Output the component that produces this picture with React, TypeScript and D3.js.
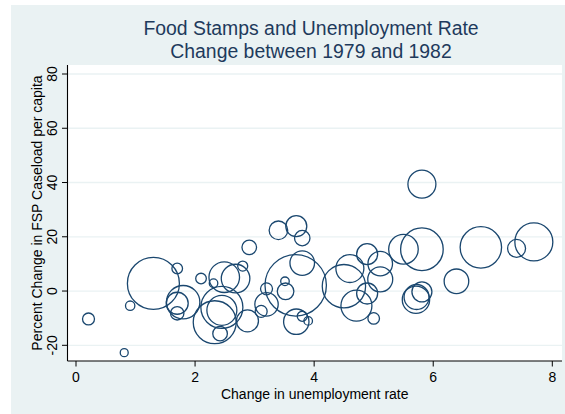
import React from "react";
import * as d3 from "d3";

// Change in unemployment rate (x), 1979-1982
const unempChange = [
  0.21, 0.81, 0.91, 1.3, 1.7, 1.8, 1.7, 1.7, 2.1, 2.31,
  2.33, 2.42, 2.45, 2.45, 2.49, 2.68, 2.8, 2.91, 2.88, 3.11,
  3.2, 3.2, 3.4, 3.7, 3.8, 3.69, 3.8, 3.51, 3.52, 3.7,
  3.8, 3.9, 4.5, 4.6, 4.71, 4.89, 4.89, 5.11, 5.11, 5.0,
  5.5, 5.81, 5.81, 5.81, 5.72, 5.71, 6.39, 6.8, 7.4, 7.69,
];
// Percent change in FSP caseload per capita (y)
const fspChange = [
  -10.3, -22.7, -5.4, 2.8, 8.3, -4.1, -4.5, -8.2, 4.6, 2.9,
  -11.5, -15.7, -6.0, -7.1, 5.1, 4.6, 9.2, 16.1, -11.0, -7.5,
  0.8, -4.9, 22.4, 23.9, 19.5, 2.1, 10.3, 3.6, -0.1, -11.3,
  -9.3, -11.0, 1.8, 8.3, -5.4, -0.9, 13.6, 10.1, 4.3, -10.1,
  15.4, 15.4, 39.4, -0.3, -2.2, -3.2, 3.6, 16.1, 15.7, 18.1,
];
// Bubble weight (population, millions)
const population = [
  0.9, 0.4, 0.55, 17.0, 0.71, 7.0, 3.04, 1.13, 0.71, 0.46,
  11.6, 1.34, 11.1, 5.65, 5.88, 5.14, 0.63, 1.34, 3.04, 0.9,
  0.9, 3.44, 2.17, 2.77, 1.49, 23.7, 3.8, 0.46, 1.73, 4.05,
  0.63, 0.46, 11.8, 4.92, 6.03, 2.77, 2.77, 3.8, 3.92, 0.84,
  5.5, 11.4, 4.92, 2.51, 3.92, 4.71, 3.8, 10.8, 2.03, 9.07,
];

const xTicks = [0, 2, 4, 6, 8];
const yTicks = [-20, 0, 20, 40, 60, 80];
const titleLines = ["Food Stamps and Unemployment Rate", "Change between 1979 and 1982"];
const xTitle = "Change in unemployment rate";
const yTitle = "Percent Change in FSP Caseload per capita";

export default function App() {
  const W = 565;
  const H = 414;
  const plot = { left: 67.5, right: 562, top: 65, bottom: 361 };
  const x = d3.scaleLinear().domain([0, 8]).range([76, 552.3]);
  const y = d3.scaleLinear().domain([-20, 80]).range([345.3, 74]);
  const r = d3.scaleSqrt().domain([0, 23.7]).range([0, 30.7]);
  const font = "'Liberation Sans', Arial, Helvetica, sans-serif";
  const bg = "#EAF2F3";
  const navy = "#1A476F";

  const pts = unempChange.map((u, i) => ({ u, f: fspChange[i], p: population[i] }));

  return (
    <div style={{ position: "absolute", left: 0, top: 0 }}>
      <svg width={W} height={H} style={{ display: "block" }} fontFamily={font}>
        <rect x={0} y={0} width={W} height={H} fill="#ffffff" />
        <rect x={11} y={5} width={W - 11} height={H - 5} fill={bg} />
        <rect
          x={plot.left}
          y={plot.top}
          width={plot.right - plot.left}
          height={plot.bottom - plot.top}
          fill="#ffffff"
        />
        {yTicks.map((t) => (
          <line
            key={"g" + t}
            x1={plot.left}
            x2={plot.right}
            y1={y(t)}
            y2={y(t)}
            stroke={bg}
            strokeWidth={1.3}
          />
        ))}
        {pts.map((d, i) => (
          <circle
            key={i}
            cx={x(d.u)}
            cy={y(d.f)}
            r={r(d.p)}
            fill="none"
            stroke={navy}
            strokeWidth={1.3}
          />
        ))}
        {/* axes */}
        <line x1={plot.left} x2={plot.left} y1={plot.top} y2={plot.bottom} stroke="#000" strokeWidth={1.1} />
        <line x1={plot.left} x2={plot.right} y1={plot.bottom} y2={plot.bottom} stroke="#000" strokeWidth={1.1} />
        {yTicks.map((t) => (
          <g key={"yt" + t}>
            <line x1={plot.left - 5.5} x2={plot.left} y1={y(t)} y2={y(t)} stroke="#000" strokeWidth={1} />
            <text
              transform={`translate(57,${y(t)}) rotate(-90)`}
              textAnchor="middle"
              fontSize={14}
              fill="#000"
            >
              {t}
            </text>
          </g>
        ))}
        {xTicks.map((t) => (
          <g key={"xt" + t}>
            <line x1={x(t)} x2={x(t)} y1={plot.bottom} y2={plot.bottom + 5.5} stroke="#000" strokeWidth={1} />
            <text x={x(t)} y={382} textAnchor="middle" fontSize={14} fill="#000">
              {t}
            </text>
          </g>
        ))}
        <text x={(plot.left + plot.right) / 2} y={399} textAnchor="middle" fontSize={14} fill="#000">
          {xTitle}
        </text>
        <text
          transform={`translate(41.5,${(plot.top + plot.bottom) / 2}) rotate(-90)`}
          textAnchor="middle"
          fontSize={14}
          fill="#000"
        >
          {yTitle}
        </text>
        {titleLines.map((s, i) => (
          <text
            key={i}
            x={311}
            y={34.5 + i * 23}
            textAnchor="middle"
            fontSize={19.4}
            fill="#1E3A5C"
          >
            {s}
          </text>
        ))}
      </svg>
    </div>
  );
}
